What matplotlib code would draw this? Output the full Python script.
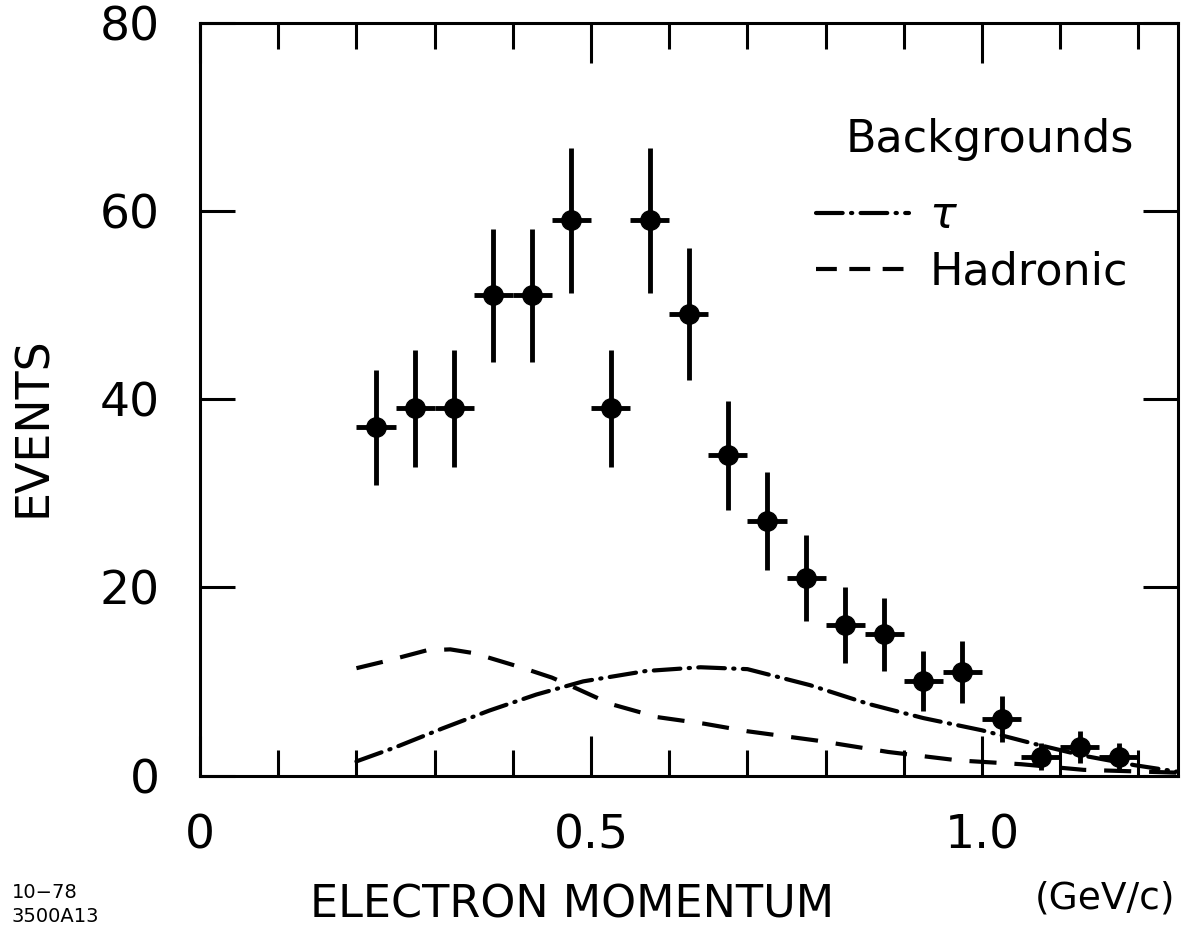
import matplotlib
matplotlib.use("Agg")
import matplotlib.pyplot as plt
from matplotlib.lines import Line2D

plt.rcParams['font.family'] = ['DejaVu Sans']

# electron spectrum, 0.05 GeV/c bins
momentum = [0.225, 0.275, 0.325, 0.375, 0.425, 0.475, 0.525, 0.575, 0.625, 0.675,
            0.725, 0.775, 0.825, 0.875, 0.925, 0.975, 1.025, 1.075, 1.125, 1.175]
events = [37, 39, 39, 51, 51, 59, 39, 59, 49, 34,
          27, 21, 16, 15, 10, 11, 6, 2, 3, 2]
events_err = [6.1, 6.2, 6.2, 7.1, 7.1, 7.7, 6.2, 7.7, 7.0, 5.8,
              5.2, 4.6, 4.0, 3.9, 3.2, 3.3, 2.4, 1.4, 1.7, 1.4]
bin_half = 0.025

# tau background
tau_p = [0.20, 0.25, 0.31, 0.37, 0.43, 0.49, 0.57, 0.64, 0.70, 0.78,
         0.855, 0.925, 1.00, 1.065, 1.13, 1.195, 1.25]
tau_n = [1.5, 3.0, 5.0, 6.9, 8.6, 10.0, 11.1, 11.5, 11.3, 9.6,
         7.6, 6.1, 4.8, 3.4, 2.1, 1.1, 0.4]

# hadronic background
had_p = [0.20, 0.24, 0.29, 0.32, 0.35, 0.41, 0.45, 0.48, 0.525, 0.585,
         0.645, 0.70, 0.79, 0.88, 0.97, 1.05, 1.13, 1.25]
had_n = [11.4, 12.2, 13.3, 13.4, 13.0, 11.5, 10.4, 9.3, 7.6, 6.2,
         5.5, 4.7, 3.7, 2.5, 1.6, 1.2, 0.6, 0.3]

xticks = [0, 0.5, 1.0]
xtick_labels = ["0", "0.5", "1.0"]
yticks = [0, 20, 40, 60, 80]

tau_style = (0, (6.4, 2.0, 0.3, 2.0))
had_style = (0, (6.5, 4.3))

fig = plt.figure(figsize=(11.85, 9.34), dpi=100)
ax = fig.add_axes([0.1688, 0.1697, 0.8249, 0.8062])

ax.errorbar(momentum, events, yerr=events_err, xerr=bin_half, fmt='o',
            color='black', ms=14, elinewidth=3.5, capsize=0)
ax.plot(tau_p, tau_n, color='black', lw=3, ls=tau_style, dash_capstyle='round')
ax.plot(had_p, had_n, color='black', lw=3, ls=had_style)

ax.set_xlim(0, 1.25)
ax.set_ylim(0, 80)
ax.set_xticks(xticks, xtick_labels)
ax.set_xticks([i / 10 for i in range(13)], minor=True)
ax.set_yticks(yticks)

for s in ax.spines.values():
    s.set_linewidth(2.2)
ax.tick_params(which='both', direction='in', top=True, right=True,
               width=2.2, labelsize=34)
ax.xaxis.set_tick_params(which='major', length=29, pad=27)
ax.xaxis.set_tick_params(which='minor', length=19)
ax.yaxis.set_tick_params(which='major', length=25, pad=29)

# legend block: title on its own, entries underneath
ax.text(0.808, 0.844, "Backgrounds", transform=ax.transAxes,
        fontsize=32, ha='center', va='center')
handles = [Line2D([], [], color='black', lw=3, ls=tau_style, dash_capstyle='round'),
           Line2D([], [], color='black', lw=3, ls=(0, (5, 3)))]
ax.legend(handles, [r"$\tau$", "Hadronic"],
          loc='upper left', bbox_to_anchor=(0.630, 0.772), frameon=False,
          fontsize=32, handlelength=2.1, handletextpad=0.45,
          labelspacing=0.3, borderpad=0, borderaxespad=0)

fig.text(0.483, 0.031, "ELECTRON MOMENTUM", fontsize=32, ha='center', va='center')
fig.text(0.9325, 0.0385, "(GeV/c)", fontsize=27, ha='center', va='center')
fig.text(0.028, 0.543, "EVENTS", fontsize=33, rotation=90, ha='center', va='center')
fig.text(0.010, 0.044, "10\u221278", fontsize=14, ha='left', va='center')
fig.text(0.010, 0.019, "3500A13", fontsize=14, ha='left', va='center')

fig.savefig("out.png", dpi=100)
